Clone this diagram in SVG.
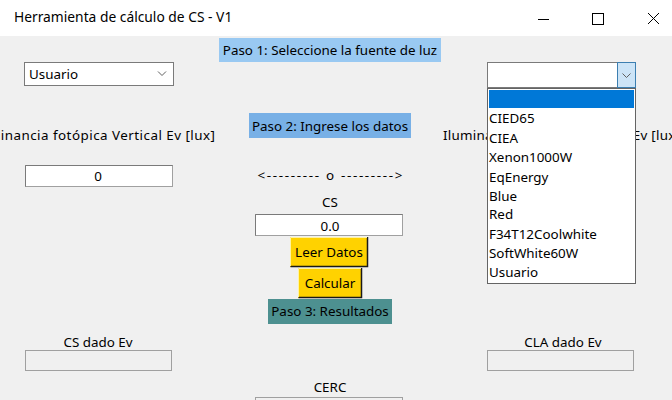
<svg xmlns="http://www.w3.org/2000/svg" width="672" height="400" viewBox="0 0 672 400">
<style>
text{font-family:"Noto Sans","Open Sans","Liberation Sans",sans-serif;font-size:13.4px;fill:#000}
.c{text-anchor:middle}
.entry{fill:#fff;stroke:#a0a0a0;stroke-width:1}
.ro{fill:#f0f0f0;stroke:#a0a0a0;stroke-width:1}
.combo{fill:#fff;stroke:#7a7a7a;stroke-width:1}
.chev{fill:none;stroke:#606060;stroke-width:1}
</style>
<rect x="0" y="0" width="672" height="36" fill="#fff"/>
<rect x="0" y="36" width="672" height="364" fill="#f0f0f0"/>
<g id="titlebar">
<text x="14" y="22" style="font-size:13.8px">Herramienta de cálculo de CS - V1</text>
<line x1="538" y1="19.5" x2="549" y2="19.5" stroke="#000"/>
<rect x="592.5" y="13.5" width="11" height="11" fill="none" stroke="#000"/>
<path d="M648 13L659 24M659 13L648 24" stroke="#000" fill="none"/>
</g>
<g id="paso1">
<rect x="219" y="38" width="222" height="24" fill="#99c9f2"/>
<text class="c" x="330" y="55">Paso 1: Seleccione la fuente de luz</text>
</g>
<g id="combo-left">
<rect class="combo" x="24.5" y="62.5" width="149" height="23"/>
<text x="29" y="79">Usuario</text>
<path class="chev" d="M158 71.5L162 75.5L166 71.5"/>
</g>
<g id="paso2">
<rect x="249" y="113" width="162" height="25" fill="#78b0e6"/>
<text class="c" x="330" y="131">Paso 2: Ingrese los datos</text>
</g>
<g id="label-left">
<text x="-30" y="140" textLength="245" lengthAdjust="spacing">Iluminancia fotópica Vertical Ev [lux]</text>
</g>
<g id="label-right">
<text x="443" y="140" textLength="237" lengthAdjust="spacing">Iluminancia fotópica Vertical Ev [lux]</text>
</g>
<g id="entry-ev">
<rect class="entry" x="25.5" y="165.5" width="147" height="21"/>
<path d="M25.5 186.5V165.5H172.5" fill="none" stroke="#7a7a7a"/>
<text class="c" x="98" y="181">0</text>
</g>
<g id="or">
<text class="c" x="330" y="180" textLength="145" lengthAdjust="spacing">&lt;--------- o ---------&gt;</text>
</g>
<g id="cs-label">
<text class="c" x="330" y="207">CS</text>
</g>
<g id="entry-cs">
<rect class="entry" x="255.5" y="214.5" width="147" height="21"/>
<path d="M255.5 235.5V214.5H402.5" fill="none" stroke="#7a7a7a"/>
<text class="c" x="330" y="231">0.0</text>
</g>
<g id="btn-leer">
<rect x="290" y="237" width="78" height="30" fill="#ffd200"/>
<path d="M290.5 266.5H367.5V237" fill="none" stroke="#1a1a1a" stroke-width="1.5"/>
<path d="M290.5 266V237.5H367" fill="none" stroke="#fff3a0"/>
<text class="c" x="329" y="257">Leer Datos</text>
</g>
<g id="btn-calc">
<rect x="298" y="268" width="64" height="30" fill="#ffd200"/>
<path d="M298.5 297.5H361.5V268" fill="none" stroke="#1a1a1a" stroke-width="1.5"/>
<path d="M298.5 297V268.5H361" fill="none" stroke="#fff3a0"/>
<text class="c" x="330" y="288">Calcular</text>
</g>
<g id="paso3">
<rect x="268" y="299" width="124" height="25" fill="#4d9090"/>
<text class="c" x="330" y="316">Paso 3: Resultados</text>
</g>
<g id="cs-dado">
<text class="c" x="98" y="347">CS dado Ev</text>
<rect class="ro" x="25.5" y="350.5" width="146" height="20"/>
</g>
<g id="cla-dado">
<text class="c" x="563" y="347">CLA dado Ev</text>
<rect class="ro" x="487.5" y="350.5" width="146" height="20"/>
</g>
<g id="cerc">
<text class="c" x="330" y="392">CERC</text>
<rect class="ro" x="255.5" y="397.5" width="147" height="20"/>
</g>
<g id="combo-right">
<rect class="combo" x="487.5" y="62.5" width="148" height="25"/>
<rect x="617.5" y="62.5" width="18" height="25" fill="#cce4f7" stroke="#3c7fb1"/>
<path class="chev" d="M622.5 73.5L626.5 77.5L630.5 73.5"/>
</g>
<g id="dropdown">
<rect x="487.5" y="88.5" width="148" height="195" fill="#fff" stroke="#646464"/>
<rect x="489" y="90" width="145" height="18" fill="#0078d7"/>
<text x="489" y="123">CIED65</text>
<text x="489" y="143">CIEA</text>
<text x="489" y="162">Xenon1000W</text>
<text x="489" y="182">EqEnergy</text>
<text x="489" y="201">Blue</text>
<text x="489" y="219">Red</text>
<text x="489" y="239">F34T12Coolwhite</text>
<text x="489" y="258">SoftWhite60W</text>
<text x="489" y="277">Usuario</text>
</g>
</svg>
